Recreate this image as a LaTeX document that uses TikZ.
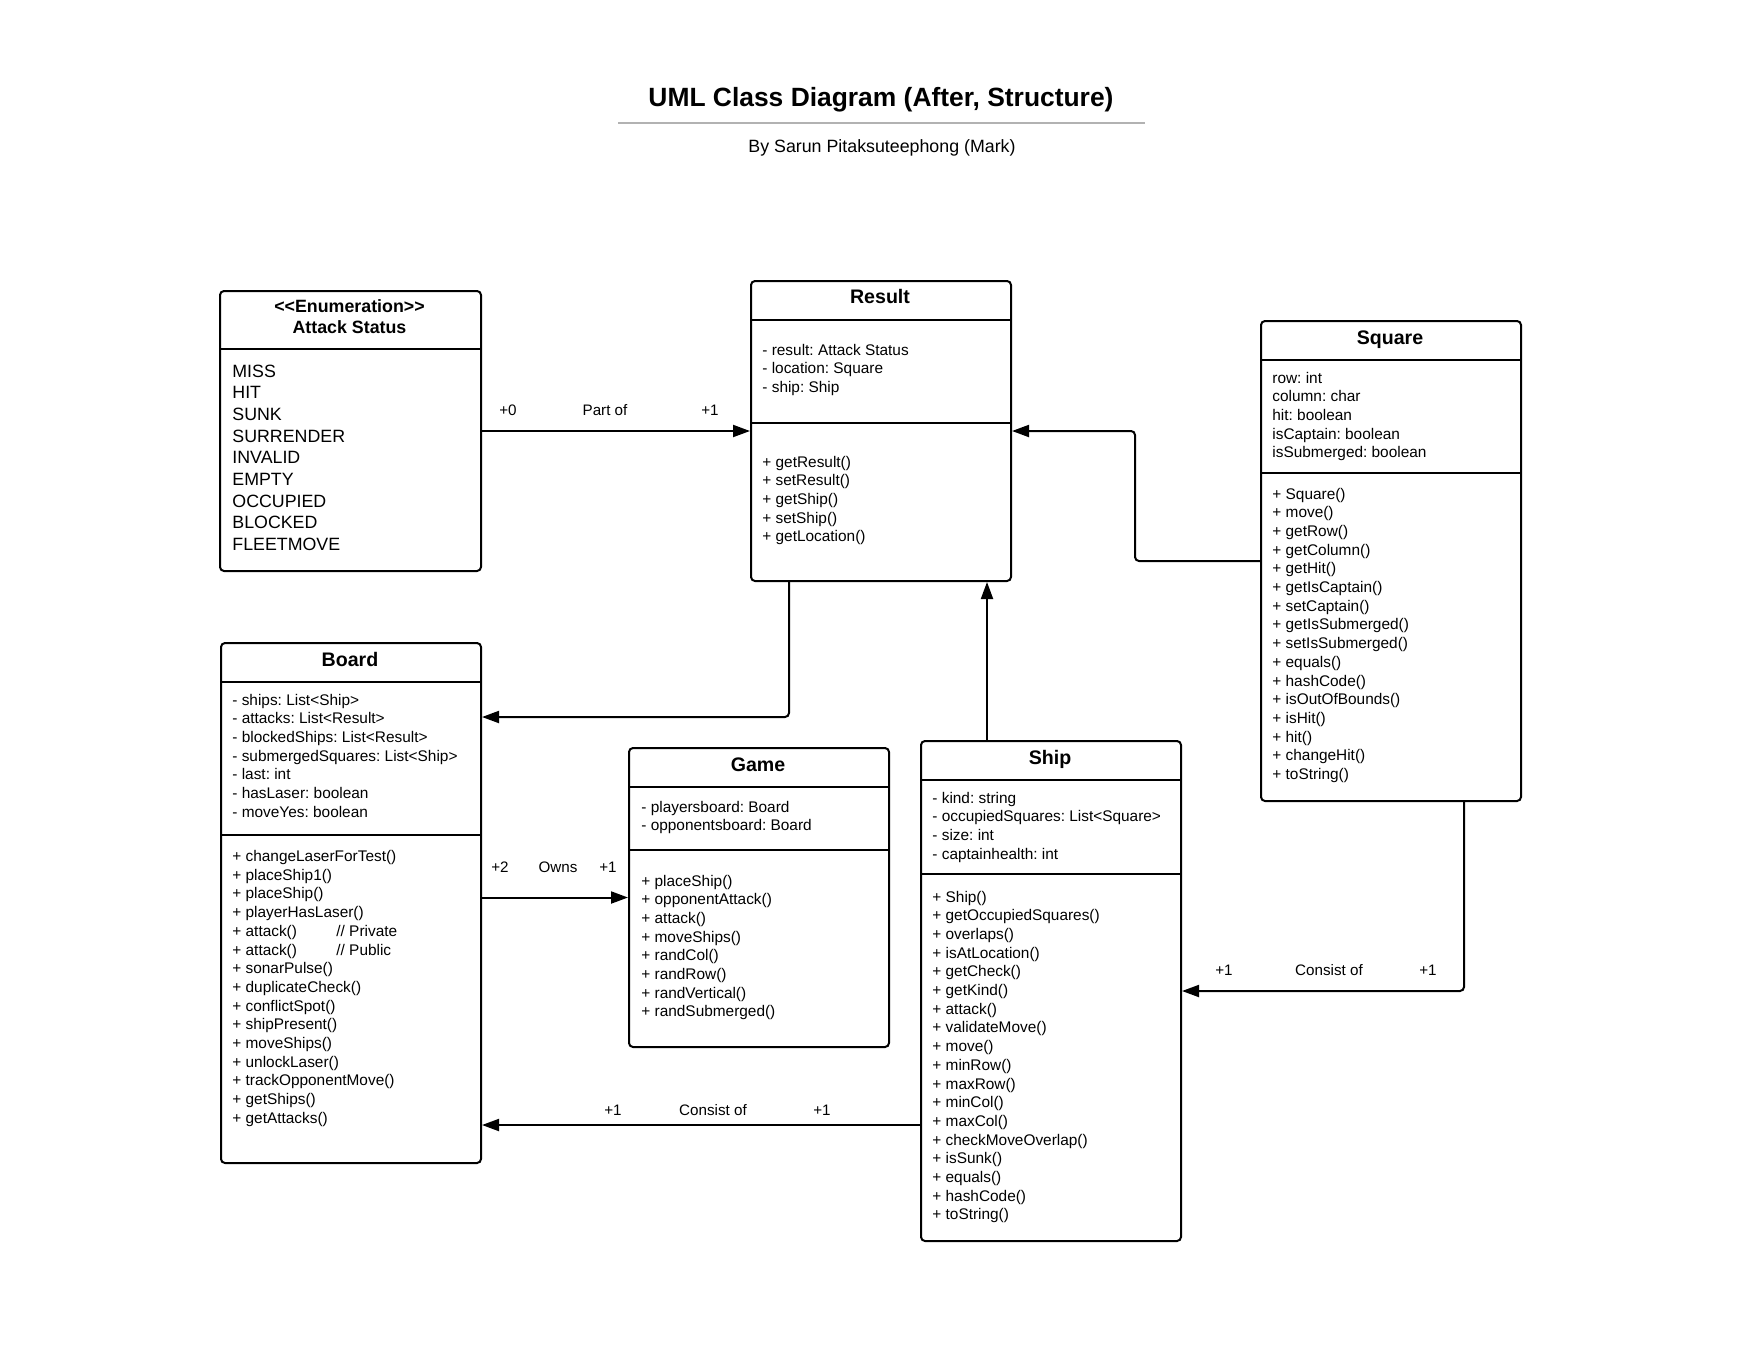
\documentclass[tikz,border=0pt]{standalone}
\usepackage{fontspec}
\setmainfont{Liberation Sans}
\usetikzlibrary{arrows.meta}
\definecolor{rulegray}{RGB}{178,178,178}
\frenchspacing

\begin{document}
\begin{tikzpicture}[x=0.5pt, y=-0.5pt,
    >={Triangle[length=8.5pt, width=6pt]},
    every node/.style={inner sep=0pt},
    classbox/.style={draw, line width=1pt, rounded corners=2pt, anchor=north west},
    divider/.style={line width=1pt},
    classname/.style={font=\fontsize{9.8}{11}\selectfont\bfseries, anchor=base},
    members/.style={font=\fontsize{7.7}{9.35}\selectfont, align=left, anchor=base west},
    mult/.style={font=\fontsize{7.6}{9}\selectfont, anchor=base},
    link/.style={line width=1pt, rounded corners=2pt}]
    \useasboundingbox (0,0) rectangle (1760,1360);

    \node[font=\fontsize{13.2}{16}\selectfont\bfseries, anchor=base] (title) at (881,106) {UML Class Diagram (After, Structure)};
    \draw[line width=1pt, rulegray] (618,123) -- (1145,123);
    \node[font=\fontsize{8.9}{11}\selectfont, anchor=base] (author) at (882,152) {By Sarun Pitaksuteephong (Mark)};

    % multi-line texts sit on the baseline of their last line
    \node[classbox, minimum width=130.5pt, minimum height=140pt] (enum) at (219,290) {};
    \draw[divider] (enum.west |- 0,349) -- (enum.east |- 0,349);
    \node[font=\fontsize{8.9}{10.5}\selectfont\bfseries, align=center, anchor=base] (enum-name) at (349.5,333) {<\kern0pt<Enumeration>\kern0pt>\\Attack Status};
    \node[font=\fontsize{8.9}{10.85}\selectfont, align=left, anchor=base west] (enum-values) at (232,550.6) {MISS\\HIT\\SUNK\\SURRENDER\\INVALID\\EMPTY\\OCCUPIED\\BLOCKED\\FLEETMOVE};

    \node[classbox, minimum width=130pt, minimum height=150pt] (result) at (750,280) {};
    \draw[divider] (result.west |- 0,320) -- (result.east |- 0,320);
    \draw[divider] (result.west |- 0,423) -- (result.east |- 0,423);
    \node[classname] (result-name) at (880,303) {Result};
    \node[members] (result-attr) at (762,392.4) {- result: Attack Status\\- location: Square\\- ship: Ship};
    \node[members] (result-ops) at (762,541.8) {+ getResult()\\+ setResult()\\+ getShip()\\+ setShip()\\+ getLocation()};

    \node[classbox, minimum width=130pt, minimum height=240pt] (square) at (1260,320) {};
    \draw[divider] (square.west |- 0,360) -- (square.east |- 0,360);
    \draw[divider] (square.west |- 0,473) -- (square.east |- 0,473);
    \node[classname] (square-name) at (1390,344) {Square};
    \node[members] (square-attr) at (1272,457.8) {row: int\\column: char\\hit: boolean\\isCaptain: boolean\\isSubmerged: boolean};
    \node[members] (square-ops) at (1272,779.5) {+ Square()\\+ move()\\+ getRow()\\+ getColumn()\\+ getHit()\\+ getIsCaptain()\\+ setCaptain()\\+ getIsSubmerged()\\+ setIsSubmerged()\\+ equals()\\+ hashCode()\\+ isOutOfBounds()\\+ isHit()\\+ hit()\\+ changeHit()\\+ toString()};

    \node[classbox, minimum width=130pt, minimum height=260pt] (board) at (220,642) {};
    \draw[divider] (board.west |- 0,682) -- (board.east |- 0,682);
    \draw[divider] (board.west |- 0,835) -- (board.east |- 0,835);
    \node[classname] (board-name) at (350,666) {Board};
    \node[members] (board-attr) at (232,817.2) {- ships: List<Ship>\\- attacks: List<Result>\\- blockedShips: List<Result>\\- submergedSquares: List<Ship>\\- last: int\\- hasLaser: boolean\\- moveYes: boolean};
    \node[members] (board-ops) at (232,1123.3) {+ changeLaserForTest()\\+ placeShip1()\\+ placeShip()\\+ playerHasLaser()\\\makebox[52pt][l]{+ attack()}// Private\\\makebox[52pt][l]{+ attack()}// Public\\+ sonarPulse()\\+ duplicateCheck()\\+ conflictSpot()\\+ shipPresent()\\+ moveShips()\\+ unlockLaser()\\+ trackOpponentMove()\\+ getShips()\\+ getAttacks()};

    \node[classbox, minimum width=130pt, minimum height=149.5pt] (game) at (628,747) {};
    \draw[divider] (game.west |- 0,787) -- (game.east |- 0,787);
    \draw[divider] (game.west |- 0,850) -- (game.east |- 0,850);
    \node[classname] (game-name) at (758,771) {Game};
    \node[members] (game-attr) at (641,830.7) {- playersboard: Board\\- opponentsboard: Board};
    \node[members] (game-ops) at (641,1016.9) {+ placeShip()\\+ opponentAttack()\\+ attack()\\+ moveShips()\\+ randCol()\\+ randRow()\\+ randVertical()\\+ randSubmerged()};

    \node[classbox, minimum width=130pt, minimum height=250pt] (ship) at (920,740) {};
    \draw[divider] (ship.west |- 0,780) -- (ship.east |- 0,780);
    \draw[divider] (ship.west |- 0,874) -- (ship.east |- 0,874);
    \node[classname] (ship-name) at (1050,764) {Ship};
    \node[members] (ship-attr) at (932,859.1) {- kind: string\\- occupiedSquares: List<Square>\\- size: int\\- captainhealth: int};
    \node[members] (ship-ops) at (932,1219.9) {+ Ship()\\+ getOccupiedSquares()\\+ overlaps()\\+ isAtLocation()\\+ getCheck()\\+ getKind()\\+ attack()\\+ validateMove()\\+ move()\\+ minRow()\\+ maxRow()\\+ minCol()\\+ maxCol()\\+ checkMoveOverlap()\\+ isSunk()\\+ equals()\\+ hashCode()\\+ toString()};

    \draw[link, ->] (enum.east) -- (result.west);
    \node[mult] (part-from) at (508,415) {+0};
    \node[mult] (part-of) at (605,415) {Part of};
    \node[mult] (part-to) at (710,415) {+1};

    \draw[link, ->] (square.west) -- ++(-125,0) |- (result.east);
    \draw[link, ->] (result.south -| 789,0) |- (board.east |- 0,717);
    \draw[link, ->] (ship.north -| 987,0) -- (result.south -| 987,0);

    \draw[link, ->] (board.east |- game.west) -- (game.west);
    \node[mult] (owns-from) at (500,872) {+2};
    \node[mult] (owns) at (558,872) {Owns};
    \node[mult] (owns-to) at (608,872) {+1};

    \draw[link, ->] (square.south -| 1464,0) |- (ship.east);
    \node[mult] (sq-to) at (1224,975) {+1};
    \node[mult] (sq-of) at (1329,975) {Consist of};
    \node[mult] (sq-from) at (1428,975) {+1};

    \draw[link, ->] (ship.west |- 0,1125) -- (board.east |- 0,1125);
    \node[mult] (ship-to) at (613,1115) {+1};
    \node[mult] (ship-of) at (713,1115) {Consist of};
    \node[mult] (ship-from) at (822,1115) {+1};
\end{tikzpicture}
\end{document}
